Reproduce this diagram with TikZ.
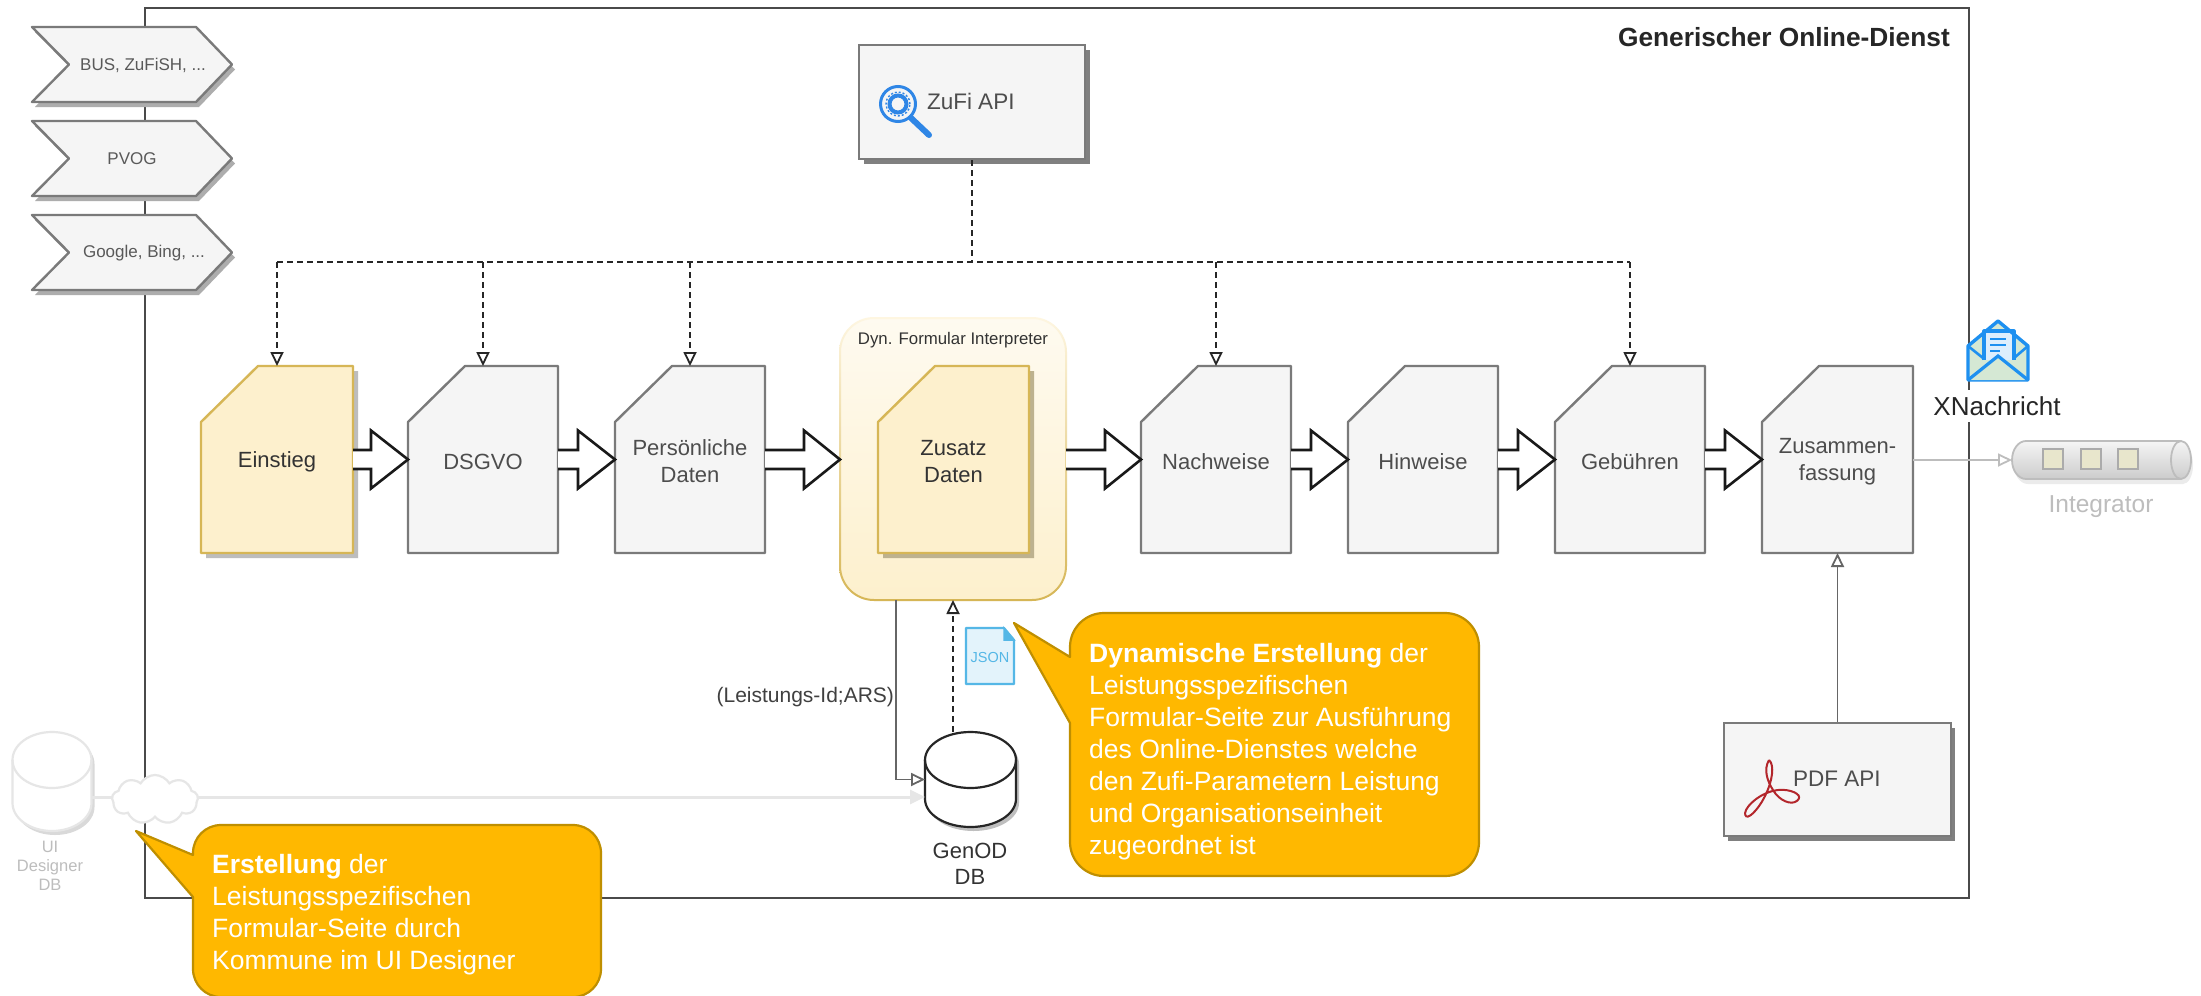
\documentclass[tikz,border=0pt]{standalone}
\usepackage{fontspec}
\setmainfont{Liberation Sans}
\usetikzlibrary{arrows.meta,shapes.symbols,calc}
\definecolor{framec}{HTML}{4A4A4A}
\definecolor{grayf}{HTML}{F5F5F5}
\definecolor{grays}{HTML}{7A7A7A}
\definecolor{txtg}{HTML}{4D4D4D}
\definecolor{yelf}{HTML}{FDF0CD}
\definecolor{yels}{HTML}{D6B656}
\definecolor{calf}{HTML}{FFB800}
\definecolor{cals}{HTML}{BF8F00}
\definecolor{fadec}{HTML}{E6E6E6}
\definecolor{fadet}{HTML}{BDBDBD}
\definecolor{blueic}{HTML}{2F86E6}
\definecolor{mailb}{HTML}{1E90F0}
\definecolor{mailf}{HTML}{D5E8D4}
\definecolor{jsons}{HTML}{55B7E6}
\definecolor{jsonf}{HTML}{E3F3FB}
\definecolor{pdfred}{HTML}{B3262B}
\definecolor{shady}{HTML}{BDBDBD}
\definecolor{shadz}{HTML}{BDB28F}
\definecolor{intsq}{HTML}{E8E6CC}
\newcommand{\fsz}[2]{\fontsize{#1}{#2}\selectfont}
\tikzset{
  lbl/.style={inner sep=0pt,outer sep=0pt,align=center,text=txtg},
  darklbl/.style={lbl,text=black!80},
  calltext/.style={inner sep=0pt,anchor=north west,align=left,text=white,font=\fsz{26.5}{32}},
  opentip/.style={-{Triangle[open,fill=white,length=14pt,width=13pt,line width=1.8pt]}},
  dashconn/.style={opentip,line width=2.1pt,draw=black!85,dash pattern=on 6pt off 4pt},
  busline/.style={line width=2.1pt,draw=black!85,dash pattern=on 6pt off 4pt},
  thinconn/.style={opentip,line width=1.6pt,draw=black!60},
  blockarr/.style={draw=black!90,line width=2.6pt,fill=white,line join=miter},
  callout/.style={fill=calf,draw=cals,line width=2.2pt,line join=round},
}
% page shape: name, x1, x2, fill, stroke, text, text style
\newcommand{\pageshape}[7]{%
  \path[fill=#4,draw=#5,line width=2.4pt,line join=round]
    (#2+57,366) -- (#3,366) -- (#3,553) -- (#2,553) -- (#2,422) -- cycle;
  \node[inner sep=0pt,outer sep=0pt,minimum width={(#3-#2)*1pt},minimum height=187pt] (#1) at ({(#2+#3)/2},459.5) {};
  \node[#7,font=\fsz{22}{26}] (#1t) at ({(#2+#3)/2},461.5) {#6};
}
\newcommand{\pageshadow}[3]{%
  \fill[#3] (#1+57+5,371) -- (#2+5,371) -- (#2+5,558) -- (#1+5,558) -- (#1+5,427) -- cycle;
}
% chevron: name, y top, text centre x, text
\newcommand{\chev}[4]{%
  \fill[black!32] (32+3,#2+5) -- (196+3,#2+5) -- (232+3,#2+37.5+5) -- (196+3,#2+75+5) -- (32+3,#2+75+5) -- (69+3,#2+37.5+5) -- cycle;
  \path[fill=grayf,draw=grays,line width=2.4pt,line join=round]
    (32,#2) -- (196,#2) -- (232,#2+37.5) -- (196,#2+75) -- (32,#2+75) -- (69,#2+37.5) -- cycle;
  \node[lbl,text=black!65,font=\fsz{17}{20}] (#1) at (#3,#2+38) {#4};
}
% block arrow between two nodes, right edge to left edge
\newcommand{\blockarrow}[3]{%
  \draw[blockarr] let \p1=(#1.east),\p2=(#2.west) in
    (\x1,\y1-9.5pt) -- (\x2-#3 pt,\y1-9.5pt) -- (\x2-#3 pt,\y1-29pt) -- (\x2,\y1) -- (\x2-#3 pt,\y1+29pt) -- (\x2-#3 pt,\y1+9.5pt) -- (\x1,\y1+9.5pt);
}
% database: name, x1, x2, ytop, ybot, stroke, shadow
\newcommand{\dbase}[7]{%
  \path[fill=#7] (#2+3,#4+28+4) arc[start angle=180,end angle=0,x radius={(#3-#2)/2*1pt},y radius=28pt] -- (#3+3,#5-28+4) arc[start angle=0,end angle=-180,x radius={(#3-#2)/2*1pt},y radius=28pt] -- cycle;
  \path[fill=white,draw=#6,line width=2.2pt] (#2,#4+28) arc[start angle=180,end angle=0,x radius={(#3-#2)/2*1pt},y radius=28pt] -- (#3,#5-28) arc[start angle=0,end angle=-180,x radius={(#3-#2)/2*1pt},y radius=28pt] -- cycle;
  \draw[#6,line width=2.2pt] (#2,#4+28) arc[start angle=180,end angle=360,x radius={(#3-#2)/2*1pt},y radius=28pt];
  \node[inner sep=0pt,outer sep=0pt,minimum width={(#3-#2)*1pt},minimum height={(#5-#4)*1pt}] (#1) at ({(#2+#3)/2},{(#4+#5)/2}) {};
}
% callout: x1,x2,y1,y2,radius, tail base top y, tail base bottom y, tip x, tip y
\newcommand{\callbox}[9]{%
  \path[callout] (#1,#6) -- (#1,#3+#5) arc[start angle=180,end angle=90,radius=#5 pt]
    -- (#2-#5,#3) arc[start angle=90,end angle=0,radius=#5 pt]
    -- (#2,#4-#5) arc[start angle=0,end angle=-90,radius=#5 pt]
    -- (#1+#5,#4) arc[start angle=-90,end angle=-180,radius=#5 pt]
    -- (#1,#7) -- (#8,#9) -- cycle;
}
\begin{document}
\begin{tikzpicture}[x=1pt,y=-1pt]
\useasboundingbox (0,0) rectangle (2201,996);
\clip (0,0) rectangle (2201,996);
\fill[white] (0,0) rectangle (2201,996);
% frame
\draw[framec,line width=2.8pt] (145,8) rectangle (1969,898);
\node[inner sep=0pt,anchor=east,font=\bfseries\fsz{26.3}{30},text=black!85] (title) at (1950,37) {Generischer Online-Dienst};
% chevrons
\chev{bus}{27}{143}{BUS, ZuFiSH, ...}
\chev{pvog}{121}{132}{PVOG}
\chev{goog}{215}{144}{Google, Bing, ...}
% ZuFi API
\fill[black!50] (864,50) rectangle (1090,164);
\node[draw=grays,fill=grayf,line width=2.4pt,inner sep=0pt,minimum width=226pt,minimum height=114pt] (zufi) at (972,102) {};
\node[lbl,anchor=west,font=\fsz{22.5}{26}] (zufit) at (927,101) {ZuFi API};
\draw[blueic,line width=3pt] (898,104) circle (17.5pt);
\draw[blueic,line width=4pt] (898,104) circle (8.5pt);
\draw[blueic,line width=1.4pt,dash pattern=on 2pt off 2pt] (898,104) circle (12pt);
\draw[blueic,line width=6pt,line cap=round] (911,118) -- (929,135);
% pages
\pageshadow{201}{353}{shady}
\pageshape{ein}{201}{353}{yelf}{yels}{Einstieg}{darklbl}
\pageshape{dsg}{408}{558}{grayf}{grays}{DSGVO}{lbl}
\pageshape{per}{615}{765}{grayf}{grays}{Persönliche\\[1pt]Daten}{lbl}
% interpreter container
\shade[rounded corners=34pt,top color=yelf!30,middle color=yelf,bottom color=yelf] (840,318) rectangle (1066,600);
\shade[even odd rule,top color=yelf!60,middle color=yels!60,bottom color=yels]
  [rounded corners=35pt] (839,317) rectangle (1067,601) [rounded corners=33pt] (841,319) rectangle (1065,599);
\node[inner sep=0pt,outer sep=0pt,minimum width=226pt,minimum height=282pt] (dyn) at (953,459.5) {};
\node[darklbl,font=\fsz{16.8}{20}] (dynt) at (953,340) {Dyn. Formular Interpreter};
\pageshadow{878}{1029}{shadz}
\pageshape{zus}{878}{1029}{yelf}{yels}{Zusatz\\[1pt]Daten}{darklbl}
\pageshape{nach}{1141}{1291}{grayf}{grays}{Nachweise}{lbl}
\pageshape{hin}{1348}{1498}{grayf}{grays}{Hinweise}{lbl}
\pageshape{geb}{1555}{1705}{grayf}{grays}{Gebühren}{lbl}
\pageshape{zsm}{1762}{1913}{grayf}{grays}{Zusammen-\\[1pt]fassung}{lbl}
% block arrows
\blockarrow{ein}{dsg}{37}
\blockarrow{dsg}{per}{37}
\blockarrow{per}{dyn}{36}
\blockarrow{dyn}{nach}{36}
\blockarrow{nach}{hin}{37}
\blockarrow{hin}{geb}{37}
\blockarrow{geb}{zsm}{37}
% dashed bus
\coordinate (busl) at (277,262);
\coordinate (busr) at (1630,262);
\coordinate (busm) at (zufi.south |- busl);
\draw[busline] (zufi.south) -- (busm);
\draw[busline] (busl) -- (busr);
\draw[dashconn] (ein.north |- busl) -- (ein.north);
\draw[dashconn] (dsg.north |- busl) -- (dsg.north);
\draw[dashconn] (per.north |- busl) -- (per.north);
\draw[dashconn] (nach.north |- busl) -- (nach.north);
\draw[dashconn] (geb.north |- busl) -- (geb.north);
% PDF API
\fill[black!50] (1728,728) rectangle (1955,841);
\node[draw=grays,fill=grayf,line width=2.4pt,inner sep=0pt,minimum width=227pt,minimum height=113pt] (pdf) at (1837.5,779.5) {};
\node[lbl,anchor=west,font=\fsz{22.5}{26}] (pdft) at (1793,779) {PDF API};
\draw[pdfred,line width=2pt,rounded corners=1pt] (1769,760) .. controls (1763,770) and (1768,782) .. (1773,790) .. controls (1779,800) and (1791,806) .. (1798,800) .. controls (1802,794) and (1790,789) .. (1778,790) .. controls (1762,792) and (1746,805) .. (1745,814) .. controls (1747,821) and (1758,810) .. (1765,796) .. controls (1772,782) and (1775,765) .. (1769,760);
\draw[thinconn] (pdf.north) -- (zsm.south);
% GenOD DB
\dbase{gen}{925}{1016}{732}{827}{black!85}{black!25}
\node[darklbl,font=\fsz{22}{26}] (gent) at (970,864) {GenOD\\DB};
% connections to DB
\coordinate (dbin) at (896,600);
\draw[thinconn] (dbin) |- (gen.west);
\node[lbl,anchor=east,text=black!75,font=\fsz{21}{25}] (ars) at (894,697) {(Leistungs-Id;ARS)};
\coordinate (jsontop) at (953,600);
\draw[dashconn] (gen.north -| jsontop) -- (jsontop);
% JSON
\path[fill=jsonf,draw=jsons,line width=2.2pt,line join=round] (966,628) -- (1004,628) -- (1014,640) -- (1014,684) -- (966,684) -- cycle;
\draw[jsons,line width=1.5pt,fill=jsons] (1004,628) -- (1004,640) -- (1014,640) -- cycle;
\node[inner sep=0pt,font=\fsz{14.5}{17},text=jsons] (json) at (990,657) {JSON};
% UI designer side
\dbase{uidb}{12.5}{91.5}{732}{831}{fadec}{black!15}
\node[lbl,text=fadet,font=\fsz{16.5}{19}] (uit) at (50,866) {UI\\Designer\\DB};
\coordinate (genin) at (925,797);
\draw[-{Triangle[length=15pt,width=14pt]},fadec,line width=3pt] (uidb.east |- genin) -- (genin);
\node[cloud,cloud puffs=9,cloud puff arc=120,aspect=1.75,draw=fadec,fill=white,line width=2.2pt,inner sep=0pt,minimum width=86pt,minimum height=49pt] (cloudn) at (155,799.5) {};
% Integrator
\coordinate (intg) at (2012,460);
\draw[thinconn,draw=fadet,line width=1.8pt] (zsm.east |- intg) -- (intg);
\path[fill=black!8] (2028,446) -- (2183,446) arc[start angle=90,end angle=-90,x radius=10pt,y radius=19pt] -- (2028,484) arc[start angle=270,end angle=90,x radius=14pt,y radius=19pt] -- cycle;
\shade[top color=black!4,bottom color=black!20,draw=none] (2026,441) -- (2181,441) arc[start angle=90,end angle=-90,x radius=10pt,y radius=19pt] -- (2026,479) arc[start angle=270,end angle=90,x radius=14pt,y radius=19pt] -- cycle;
\draw[fadet,line width=1.8pt] (2026,441) -- (2181,441) arc[start angle=90,end angle=-90,x radius=10pt,y radius=19pt] -- (2026,479) arc[start angle=270,end angle=90,x radius=14pt,y radius=19pt] -- cycle;
\draw[fadet,line width=1.8pt] (2181,441) arc[start angle=90,end angle=270,x radius=10pt,y radius=19pt];
\foreach \cx in {2053,2091,2128}{
  \draw[fill=intsq,draw=black!33,line width=1.6pt] (\cx-10,449) rectangle (\cx+10,469);
}
\node[lbl,text=fadet,font=\fsz{24.5}{28}] (intt) at (2101,507) {Integrator};
% XNachricht
\fill[white] (1960,390) rectangle (1978,422);
\node[inner sep=0pt,font=\fsz{26}{30},text=black!85] (xn) at (1997,406) {XNachricht};
\path[fill=mailf] (1968,380) -- (1968,346) -- (1998,321) -- (2028,346) -- (2028,380) -- cycle;
\draw[mailb,line width=3.2pt,fill=mailb!15,line join=round] (1984,360) -- (1984,331) -- (2014,331) -- (2014,360);
\draw[mailb,line width=2.4pt] (1990,339) -- (2006,339) (1990,345) -- (2006,345) (1990,351) -- (2000,351);
\draw[mailb,line width=3.4pt,line join=round] (1968,380) -- (1968,346) -- (1998,321) -- (2028,346) -- (2028,380) -- cycle;
\path[fill=mailf] (1968,380) -- (1998,356) -- (2028,380) -- cycle;
\draw[mailb,line width=3.2pt] (1968,380) -- (1998,356) -- (2028,380);
\draw[mailb,line width=2.6pt] (1968,346) -- (1983,358) (2028,346) -- (2014,358);
% callouts
\callbox{193}{601}{825}{997}{28}{855}{897}{136}{831}
\node[calltext] (c1) at (212,854.5) {\textbf{Erstellung} der\\Leistungsspezifischen\\Formular-Seite durch\\Kommune im UI Designer};
\callbox{1070}{1479}{613}{876}{34}{657}{723}{1014}{623}
\node[calltext] (c2) at (1089,643) {\textbf{Dynamische Erstellung} der\\Leistungsspezifischen\\Formular-Seite zur Ausführung\\des Online-Dienstes welche\\den Zufi-Parametern Leistung\\und Organisationseinheit\\zugeordnet ist};
\end{tikzpicture}
\end{document}
